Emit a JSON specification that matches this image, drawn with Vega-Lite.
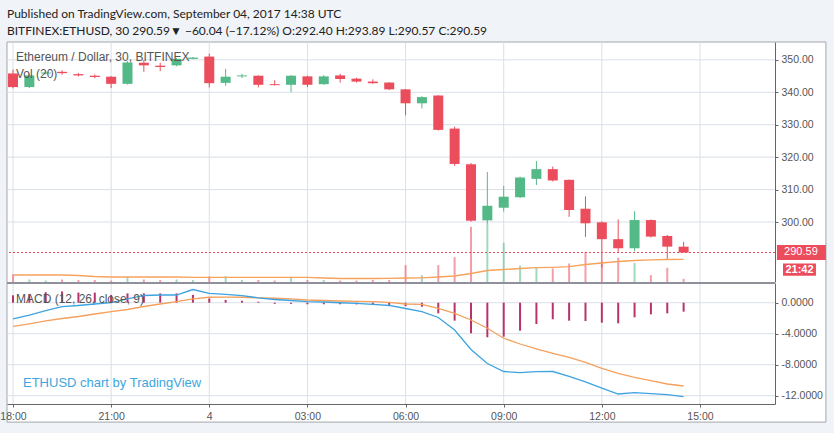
{
  "$schema": "https://vega.github.io/schema/vega-lite/v6.json",
  "width": 768,
  "height": 362,
  "autosize": {"type": "none"},
  "padding": {"left": 7, "top": 42, "right": 59, "bottom": 29},
  "background": "#f0f3f7",
  "title": {
    "text": "Published on TradingView.com, September 04, 2017 14:38 UTC",
    "subtitle": "BITFINEX:ETHUSD, 30  290.59▼ −60.04 (−17.12%) O:292.40 H:293.89 L:290.57 C:290.59",
    "anchor": "start",
    "frame": "group",
    "offset": 4,
    "font": "Lato",
    "fontSize": 12,
    "fontWeight": "normal",
    "color": "#222222",
    "subtitleFont": "Lato",
    "subtitleFontSize": 12,
    "subtitleFontWeight": "normal",
    "subtitleColor": "#222222",
    "subtitlePadding": 5
  },
  "config": {
    "view": {"stroke": "#8e9199", "strokeWidth": 1},
    "font": "Liberation Sans",
    "axis": {
      "labelFont": "Liberation Sans",
      "labelFontSize": 10.5,
      "labelColor": "#555555",
      "tickColor": "#666666",
      "domainColor": "#666666",
      "grid": false,
      "tickSize": 3,
      "labelPadding": 3,
      "zindex": 1,
      "title": null
    }
  },
  "data": {
    "values": [
      {"t": "2017-09-03T18:00:00Z", "o": 345.8, "h": 347.0, "l": 341.2, "c": 341.6, "v": 750, "vma": 700, "m": -2.10, "s": -3.05, "hist": 0.95},
      {"t": "2017-09-03T18:30:00Z", "o": 341.6, "h": 345.8, "l": 341.3, "c": 345.2, "v": 250, "vma": 700, "m": -1.59, "s": -2.72, "hist": 1.13},
      {"t": "2017-09-03T19:00:00Z", "o": 345.8, "h": 346.5, "l": 345.5, "c": 346.1, "v": 150, "vma": 700, "m": -1.01, "s": -2.36, "hist": 1.35},
      {"t": "2017-09-03T19:30:00Z", "o": 346.3, "h": 346.8, "l": 345.4, "c": 345.9, "v": 250, "vma": 700, "m": -0.52, "s": -2.04, "hist": 1.45},
      {"t": "2017-09-03T20:00:00Z", "o": 345.6, "h": 345.9, "l": 344.9, "c": 345.2, "v": 200, "vma": 650, "m": -0.36, "s": -1.78, "hist": 1.3},
      {"t": "2017-09-03T20:30:00Z", "o": 345.1, "h": 345.5, "l": 344.3, "c": 344.7, "v": 200, "vma": 550, "m": -0.17, "s": -1.46, "hist": 1.3},
      {"t": "2017-09-03T21:00:00Z", "o": 344.8, "h": 345.0, "l": 341.3, "c": 342.6, "v": 150, "vma": 500, "m": 0.0, "s": -1.16, "hist": 1.0},
      {"t": "2017-09-03T21:30:00Z", "o": 342.6, "h": 349.6, "l": 342.4, "c": 349.2, "v": 520, "vma": 500, "m": 0.48, "s": -0.88, "hist": 1.2},
      {"t": "2017-09-03T22:00:00Z", "o": 349.1, "h": 349.9, "l": 346.3, "c": 348.3, "v": 250, "vma": 500, "m": 0.93, "s": -0.49, "hist": 1.2},
      {"t": "2017-09-03T22:30:00Z", "o": 348.2, "h": 349.1, "l": 346.5, "c": 347.8, "v": 200, "vma": 500, "m": 0.99, "s": -0.17, "hist": 1.2},
      {"t": "2017-09-03T23:00:00Z", "o": 348.3, "h": 350.6, "l": 348.0, "c": 350.3, "v": 250, "vma": 500, "m": 0.99, "s": 0.15, "hist": 1.2},
      {"t": "2017-09-03T23:30:00Z", "o": 350.3, "h": 350.9, "l": 350.2, "c": 350.7, "v": 200, "vma": 470, "m": 1.70, "s": 0.48, "hist": 1.0},
      {"t": "2017-09-04T00:00:00Z", "o": 351.0, "h": 351.9, "l": 341.5, "c": 342.8, "v": 550, "vma": 470, "m": 1.21, "s": 0.70, "hist": 0.55},
      {"t": "2017-09-04T00:30:00Z", "o": 342.9, "h": 347.2, "l": 342.0, "c": 344.8, "v": 580, "vma": 470, "m": 1.06, "s": 0.71, "hist": 0.35},
      {"t": "2017-09-04T01:00:00Z", "o": 344.9, "h": 345.7, "l": 344.4, "c": 345.2, "v": 200, "vma": 470, "m": 0.90, "s": 0.70, "hist": 0.25},
      {"t": "2017-09-04T01:30:00Z", "o": 345.1, "h": 345.2, "l": 341.5, "c": 342.3, "v": 200, "vma": 470, "m": 0.63, "s": 0.63, "hist": 0.13},
      {"t": "2017-09-04T02:00:00Z", "o": 342.5, "h": 343.7, "l": 342.1, "c": 342.2, "v": 150, "vma": 470, "m": 0.41, "s": 0.57, "hist": -0.15},
      {"t": "2017-09-04T02:30:00Z", "o": 342.3, "h": 345.3, "l": 340.0, "c": 345.1, "v": 520, "vma": 470, "m": 0.28, "s": 0.48, "hist": -0.15},
      {"t": "2017-09-04T03:00:00Z", "o": 344.9, "h": 345.1, "l": 341.6, "c": 342.3, "v": 200, "vma": 470, "m": 0.15, "s": 0.35, "hist": -0.2},
      {"t": "2017-09-04T03:30:00Z", "o": 342.5, "h": 345.3, "l": 342.3, "c": 344.9, "v": 200, "vma": 400, "m": 0.09, "s": 0.28, "hist": -0.2},
      {"t": "2017-09-04T04:00:00Z", "o": 345.2, "h": 345.7, "l": 343.0, "c": 344.1, "v": 150, "vma": 350, "m": -0.01, "s": 0.22, "hist": -0.2},
      {"t": "2017-09-04T04:30:00Z", "o": 344.2, "h": 344.5, "l": 343.0, "c": 343.3, "v": 150, "vma": 350, "m": -0.08, "s": 0.18, "hist": -0.22},
      {"t": "2017-09-04T05:00:00Z", "o": 343.3, "h": 344.0, "l": 342.6, "c": 342.8, "v": 200, "vma": 350, "m": -0.21, "s": 0.13, "hist": -0.25},
      {"t": "2017-09-04T05:30:00Z", "o": 343.0, "h": 343.1, "l": 340.7, "c": 340.9, "v": 200, "vma": 370, "m": -0.36, "s": 0.03, "hist": -0.3},
      {"t": "2017-09-04T06:00:00Z", "o": 340.9, "h": 341.0, "l": 332.9, "c": 336.6, "v": 1680, "vma": 400, "m": -0.75, "s": -0.17, "hist": -0.45},
      {"t": "2017-09-04T06:30:00Z", "o": 336.6, "h": 338.8, "l": 335.0, "c": 338.5, "v": 680, "vma": 420, "m": -1.14, "s": -0.21, "hist": -0.52},
      {"t": "2017-09-04T07:00:00Z", "o": 339.0, "h": 339.1, "l": 328.2, "c": 328.4, "v": 1680, "vma": 500, "m": -1.91, "s": -0.72, "hist": -1.37},
      {"t": "2017-09-04T07:30:00Z", "o": 328.8, "h": 329.4, "l": 317.3, "c": 317.9, "v": 2480, "vma": 600, "m": -3.52, "s": -1.37, "hist": -2.32},
      {"t": "2017-09-04T08:00:00Z", "o": 317.8, "h": 318.2, "l": 300.1, "c": 300.4, "v": 5520, "vma": 850, "m": -6.04, "s": -2.23, "hist": -3.95},
      {"t": "2017-09-04T08:30:00Z", "o": 300.5, "h": 315.4, "l": 299.6, "c": 305.0, "v": 5900, "vma": 1150, "m": -7.85, "s": -3.30, "hist": -4.46},
      {"t": "2017-09-04T09:00:00Z", "o": 304.4, "h": 311.1, "l": 303.2, "c": 307.8, "v": 3920, "vma": 1250, "m": -8.88, "s": -4.59, "hist": -4.39},
      {"t": "2017-09-04T09:30:00Z", "o": 307.6, "h": 314.0, "l": 307.4, "c": 313.7, "v": 1650, "vma": 1350, "m": -9.03, "s": -5.33, "hist": -3.61},
      {"t": "2017-09-04T10:00:00Z", "o": 313.3, "h": 318.8, "l": 311.4, "c": 316.3, "v": 1500, "vma": 1430, "m": -8.90, "s": -5.97, "hist": -2.75},
      {"t": "2017-09-04T10:30:00Z", "o": 316.3, "h": 317.1, "l": 312.5, "c": 312.8, "v": 1350, "vma": 1470, "m": -8.88, "s": -6.53, "hist": -2.14},
      {"t": "2017-09-04T11:00:00Z", "o": 313.0, "h": 313.1, "l": 301.6, "c": 303.7, "v": 1850, "vma": 1530, "m": -9.52, "s": -7.05, "hist": -2.32},
      {"t": "2017-09-04T11:30:00Z", "o": 304.1, "h": 307.9, "l": 295.4, "c": 299.6, "v": 3020, "vma": 1750, "m": -10.23, "s": -7.69, "hist": -2.36},
      {"t": "2017-09-04T12:00:00Z", "o": 299.9, "h": 300.2, "l": 286.0, "c": 294.7, "v": 2050, "vma": 1900, "m": -11.01, "s": -8.46, "hist": -2.58},
      {"t": "2017-09-04T12:30:00Z", "o": 294.7, "h": 300.8, "l": 290.8, "c": 291.9, "v": 2420, "vma": 2050, "m": -11.78, "s": -9.11, "hist": -2.66},
      {"t": "2017-09-04T13:00:00Z", "o": 291.9, "h": 303.3, "l": 291.0, "c": 300.6, "v": 1920, "vma": 2150, "m": -11.61, "s": -9.63, "hist": -1.88},
      {"t": "2017-09-04T13:30:00Z", "o": 300.6, "h": 300.8, "l": 295.2, "c": 295.5, "v": 680, "vma": 2220, "m": -11.74, "s": -10.06, "hist": -1.5},
      {"t": "2017-09-04T14:00:00Z", "o": 295.7, "h": 296.0, "l": 288.3, "c": 292.4, "v": 1420, "vma": 2250, "m": -11.87, "s": -10.49, "hist": -1.37},
      {"t": "2017-09-04T14:30:00Z", "o": 292.40, "h": 293.89, "l": 290.57, "c": 290.59, "v": 320, "vma": 2270, "m": -12.13, "s": -10.75, "hist": -1.16}
    ]
  },
  "layer": [
    {
      "layer": [
        {
          "data": {"values": [{}]},
          "mark": {"type": "rect", "fill": "white", "stroke": "#a3a6ab", "strokeWidth": 1, "clip": false},
          "encoding": {
            "x": {"datum": {"year": 2017, "month": 9, "date": 3, "hours": 17, "minutes": 49, "utc": true}, "type": "temporal"},
            "x2": {"datum": {"year": 2017, "month": 9, "date": 4, "hours": 18, "minutes": 51, "utc": true}},
            "y": {"datum": 355.5, "type": "quantitative"},
            "y2": {"datum": 238.3}
          }
        },
        {
          "data": {"values": [
            {"gt": "2017-09-03T18:00:00Z"}, {"gt": "2017-09-03T21:00:00Z"}, {"gt": "2017-09-04T00:00:00Z"}, {"gt": "2017-09-04T03:00:00Z"},
            {"gt": "2017-09-04T06:00:00Z"}, {"gt": "2017-09-04T09:00:00Z"}, {"gt": "2017-09-04T12:00:00Z"}, {"gt": "2017-09-04T15:00:00Z"}
          ]},
          "mark": {"type": "rule", "color": "#d9e0e8", "strokeWidth": 1},
          "encoding": {"x": {"field": "gt", "type": "temporal"}}
        },
        {
          "data": {"values": [{"gp": 300}, {"gp": 310}, {"gp": 320}, {"gp": 330}, {"gp": 340}, {"gp": 350}]},
          "mark": {"type": "rule", "color": "#d9e0e8", "strokeWidth": 1},
          "encoding": {"y": {"field": "gp", "type": "quantitative"}}
        },
        {
          "mark": {"type": "rule", "strokeWidth": 1},
          "encoding": {
            "x": {
              "field": "t", "type": "temporal",
              "scale": {
                "type": "utc",
                "padding": 0,
                "domain": [
                  {"year": 2017, "month": 9, "date": 3, "hours": 17, "minutes": 49, "utc": true},
                  {"year": 2017, "month": 9, "date": 4, "hours": 17, "minutes": 17, "seconds": 36, "utc": true}
                ]
              },
              "axis": {
                "orient": "bottom",
                "values": [
                  {"year": 2017, "month": 9, "date": 3, "hours": 18, "utc": true},
                  {"year": 2017, "month": 9, "date": 3, "hours": 21, "utc": true},
                  {"year": 2017, "month": 9, "date": 4, "hours": 0, "utc": true},
                  {"year": 2017, "month": 9, "date": 4, "hours": 3, "utc": true},
                  {"year": 2017, "month": 9, "date": 4, "hours": 6, "utc": true},
                  {"year": 2017, "month": 9, "date": 4, "hours": 9, "utc": true},
                  {"year": 2017, "month": 9, "date": 4, "hours": 12, "utc": true},
                  {"year": 2017, "month": 9, "date": 4, "hours": 15, "utc": true}
                ],
                "labelExpr": "utcFormat(datum.value, '%H') == '00' ? utcFormat(datum.value, '%-d') : utcFormat(datum.value, '%H:%M')",
                "grid": false,
                "labelPadding": 4,
                "labelFlush": false,
                "zindex": 1,
                "title": null
              }
            },
            "y": {
              "field": "l", "type": "quantitative",
              "scale": {"domain": [281.5, 355.5], "range": [240, 0], "nice": false, "zero": false},
              "axis": {
                "orient": "right",
                "values": [300, 310, 320, 330, 340, 350],
                "format": ".2f",
                "grid": false,
                "zindex": 1,
                "title": null
              }
            },
            "y2": {"field": "h"},
            "color": {"condition": {"test": "datum.c >= datum.o", "value": "#53b987"}, "value": "#eb4d5c"}
          }
        },
        {
          "mark": {"type": "bar", "size": 10},
          "encoding": {
            "x": {"field": "t", "type": "temporal"},
            "y": {"field": "o", "type": "quantitative"},
            "y2": {"field": "c"},
            "color": {"condition": {"test": "datum.c >= datum.o", "value": "#53b987"}, "value": "#eb4d5c"}
          }
        },
        {
          "data": {"values": [{"price": 290.59}]},
          "mark": {"type": "rule", "color": "#eb4d5c", "strokeDash": [2, 2], "strokeWidth": 1},
          "encoding": {"y": {"field": "price", "type": "quantitative"}}
        },
        {
          "data": {"values": [{"label": "290.59"}]},
          "mark": {"type": "rect", "color": "#eb4d5c", "clip": false},
          "encoding": {
            "x": {"datum": {"year": 2017, "month": 9, "date": 4, "hours": 17, "minutes": 21, "seconds": 12, "utc": true}, "type": "temporal"},
            "x2": {"datum": {"year": 2017, "month": 9, "date": 4, "hours": 18, "minutes": 51, "utc": true}},
            "y": {"datum": 292.9, "type": "quantitative"},
            "y2": {"datum": 288.3}
          }
        },
        {
          "data": {"values": [{"label": "21:42"}]},
          "mark": {"type": "rect", "color": "#eb4d5c", "clip": false},
          "encoding": {
            "x": {"datum": {"year": 2017, "month": 9, "date": 4, "hours": 17, "minutes": 32, "seconds": 18, "utc": true}, "type": "temporal"},
            "x2": {"datum": {"year": 2017, "month": 9, "date": 4, "hours": 18, "minutes": 32, "seconds": 42, "utc": true}},
            "y": {"datum": 287.2, "type": "quantitative"},
            "y2": {"datum": 283.4}
          }
        },
        {
          "data": {"values": [{"label": "290.59"}]},
          "mark": {"type": "text", "color": "white", "font": "Liberation Sans", "fontSize": 11, "align": "center", "baseline": "middle", "clip": false},
          "encoding": {
            "x": {"datum": {"year": 2017, "month": 9, "date": 4, "hours": 18, "minutes": 5, "seconds": 12, "utc": true}, "type": "temporal"},
            "y": {"datum": 290.6, "type": "quantitative"},
            "text": {"field": "label"}
          }
        },
        {
          "data": {"values": [{"label": "21:42"}]},
          "mark": {"type": "text", "color": "white", "font": "Liberation Sans", "fontSize": 11, "fontWeight": "bold", "align": "center", "baseline": "middle", "clip": false},
          "encoding": {
            "x": {"datum": {"year": 2017, "month": 9, "date": 4, "hours": 18, "minutes": 2, "seconds": 30, "utc": true}, "type": "temporal"},
            "y": {"datum": 285.3, "type": "quantitative"},
            "text": {"field": "label"}
          }
        },
        {
          "data": {"values": [{"label": "Ethereum / Dollar, 30, BITFINEX"}]},
          "mark": {"type": "text", "color": "#555555", "font": "Liberation Sans", "fontSize": 12, "align": "left", "baseline": "middle"},
          "encoding": {
            "x": {"datum": {"year": 2017, "month": 9, "date": 3, "hours": 18, "minutes": 5, "seconds": 30, "utc": true}, "type": "temporal"},
            "y": {"datum": 350.9, "type": "quantitative"},
            "text": {"field": "label"}
          }
        },
        {
          "data": {"values": [{"label": "Vol (20)"}]},
          "mark": {"type": "text", "color": "#555555", "font": "Liberation Sans", "fontSize": 12, "align": "left", "baseline": "middle"},
          "encoding": {
            "x": {"datum": {"year": 2017, "month": 9, "date": 3, "hours": 18, "minutes": 5, "seconds": 30, "utc": true}, "type": "temporal"},
            "y": {"datum": 345.6, "type": "quantitative"},
            "text": {"field": "label"}
          }
        }
      ]
    },
    {
      "layer": [
        {
          "mark": {"type": "bar", "size": 2, "opacity": 0.55},
          "encoding": {
            "x": {"field": "t", "type": "temporal"},
            "y": {"field": "v", "type": "quantitative", "scale": {"domain": [0, 24000], "range": [240, 0], "nice": false}, "axis": null},
            "y2": {"datum": 0},
            "color": {"condition": {"test": "datum.c >= datum.o", "value": "#53b987"}, "value": "#eb4d5c"}
          }
        },
        {
          "mark": {"type": "line", "color": "#f7a35c", "strokeWidth": 1.3},
          "encoding": {
            "x": {"field": "t", "type": "temporal"},
            "y": {"field": "vma", "type": "quantitative", "axis": null}
          }
        }
      ]
    },
    {
      "layer": [
        {
          "data": {"values": [{"gm": 0}, {"gm": -4}, {"gm": -8}, {"gm": -12}]},
          "mark": {"type": "rule", "color": "#d9e0e8", "strokeWidth": 1},
          "encoding": {
            "y": {
              "field": "gm", "type": "quantitative",
              "scale": {"domain": [-13.07, 2.54], "range": [362, 241], "nice": false, "zero": false},
              "axis": {
                "orient": "right",
                "values": [0, -4, -8, -12],
                "labelExpr": "replace(format(datum.value, '.4f'), '\u2212', '-')",
                "grid": false,
                "zindex": 1,
                "title": null
              }
            }
          }
        },
        {
          "data": {"values": [{}]},
          "mark": {"type": "rule", "color": "#8e9199", "strokeWidth": 2},
          "encoding": {"y": {"datum": 2.54, "type": "quantitative"}}
        },
        {
          "mark": {"type": "bar", "size": 2, "color": "#b8336a"},
          "encoding": {
            "x": {"field": "t", "type": "temporal"},
            "y": {"field": "hist", "type": "quantitative"},
            "y2": {"datum": 0}
          }
        },
        {
          "mark": {"type": "line", "color": "#f5a05d", "strokeWidth": 1.3},
          "encoding": {
            "x": {"field": "t", "type": "temporal"},
            "y": {"field": "s", "type": "quantitative"}
          }
        },
        {
          "mark": {"type": "line", "color": "#3ea3e0", "strokeWidth": 1.3},
          "encoding": {
            "x": {"field": "t", "type": "temporal"},
            "y": {"field": "m", "type": "quantitative"}
          }
        },
        {
          "data": {"values": [{"label": "MACD (12, 26, close, 9)"}]},
          "mark": {"type": "text", "color": "#555555", "font": "Liberation Sans", "fontSize": 12, "align": "left", "baseline": "middle"},
          "encoding": {
            "x": {"datum": {"year": 2017, "month": 9, "date": 3, "hours": 18, "minutes": 5, "seconds": 30, "utc": true}, "type": "temporal"},
            "y": {"datum": 0.48, "type": "quantitative"},
            "text": {"field": "label"}
          }
        },
        {
          "data": {"values": [{"label": "ETHUSD chart by TradingView"}]},
          "mark": {"type": "text", "color": "#3ea6dd", "font": "Liberation Sans", "fontSize": 13, "align": "left", "baseline": "middle"},
          "encoding": {
            "x": {"datum": {"year": 2017, "month": 9, "date": 3, "hours": 18, "minutes": 18, "seconds": 20, "utc": true}, "type": "temporal"},
            "y": {"datum": -10.36, "type": "quantitative"},
            "text": {"field": "label"}
          }
        }
      ]
    }
  ],
  "resolve": {"scale": {"y": "independent"}, "axis": {"y": "independent"}}
}
